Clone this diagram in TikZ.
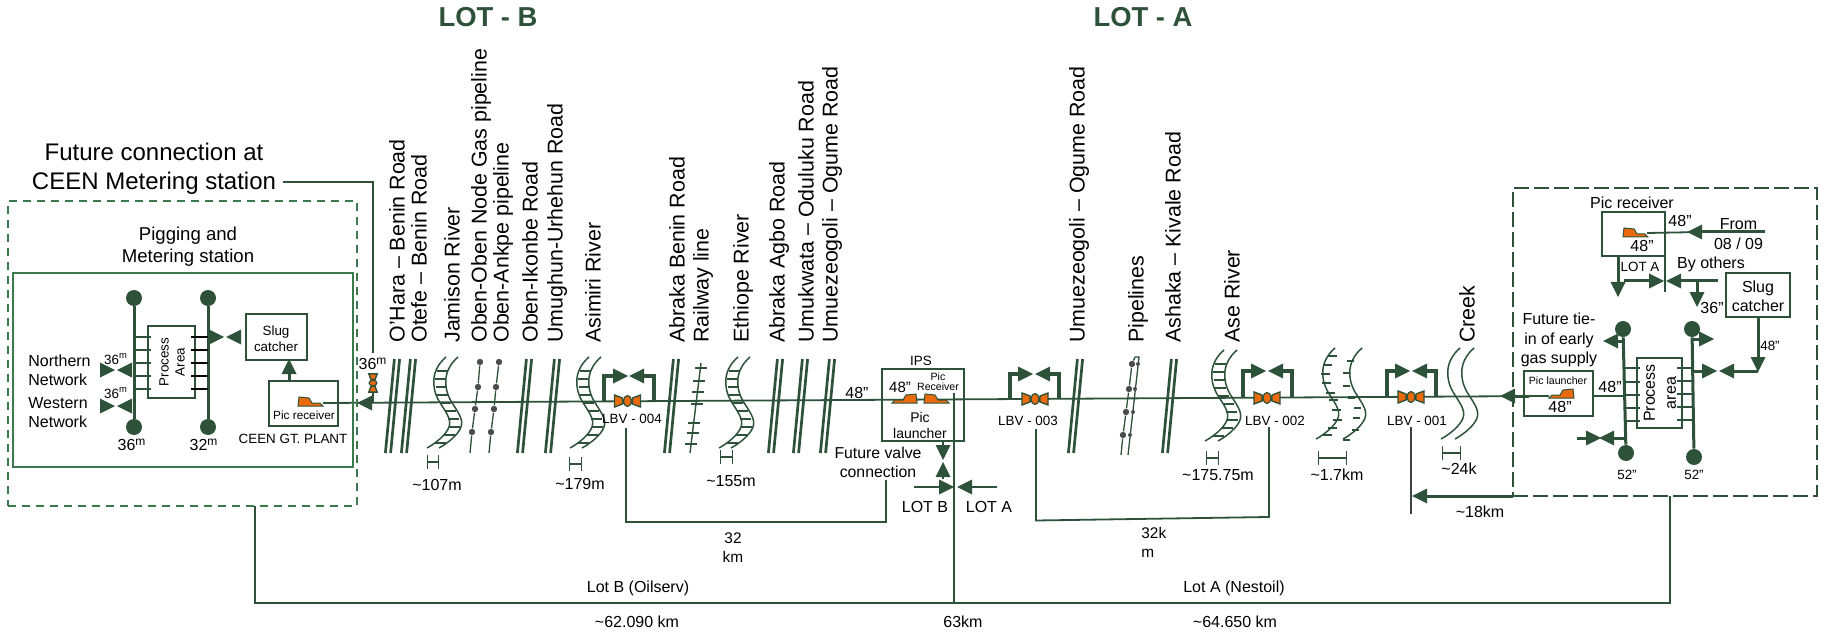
\documentclass[tikz,border=0pt]{standalone}
\usepackage{fontspec}
\setmainfont{Liberation Sans}
\definecolor{pipe}{HTML}{2D5239}
\definecolor{plant}{HTML}{3A7A4C}
\definecolor{orng}{HTML}{EC6A0E}
\begin{document}
\begin{tikzpicture}[x=0.5pt,y=-0.5pt,
  ln/.style={draw=pipe, line width=0.9pt},
  tk/.style={draw=pipe, line width=1.5pt},
  byp/.style={draw=pipe, line width=1.9pt},
  tn/.style={draw=pipe, line width=0.65pt},
  bx/.style={draw=pipe, line width=1pt, inner sep=0pt},
  nd/.style={circle, fill=pipe, inner sep=0pt, minimum size=8pt},
  dotnd/.style={circle, fill=black!70, inner sep=0pt, minimum size=3.2pt},
  ttl/.style={font=\fontsize{13.7}{16}\selectfont\bfseries, text=pipe, inner sep=0pt},
  big/.style={font=\fontsize{12}{14.5}\selectfont, align=center, inner sep=0pt},
  vert/.style={font=\fontsize{10.7}{12}\selectfont, rotate=90, anchor=west, inner sep=0pt},
  lbl/.style={font=\fontsize{8}{9.6}\selectfont, align=center, inner sep=0pt},
  sml/.style={font=\fontsize{6.7}{8}\selectfont, align=center, inner sep=0pt},
  tiny/.style={font=\fontsize{5.3}{5}\selectfont, align=center, inner sep=0pt},
  pics/tri/.style={code={\fill[pipe] (0,0) -- (-15,-7.5) -- (-15,7.5) -- cycle;}},
  pics/road/.style={code={
    \draw[draw=pipe, line width=1.35pt] (-2.6,0) -- (-11.6,94);
    \draw[draw=pipe, line width=1.35pt] (2.6,0) -- (-6.4,94);}},
  pics/bank/.style={code={
    \draw[draw=pipe, line width=0.75pt] (0,0) .. controls (-15,13) and (-15,30) .. (-7,44)
      .. controls (-1,54) and (6,62) .. (3,70) .. controls (0,78) and (-10,86) .. (-19,91);}},
  pics/hatch/.style={code={
    \foreach \hy/\hx in {14/-9,22/-11,30/-10,38/-9,46/-6,54/-1,62/2,70/3,78/-2,86/-11}
      \draw[tn] (\hx,\hy) -- ++(11,0);}},
  pics/bar/.style={code={\draw[tn, |-|] (0,0) -- (#1,0);}},
  pics/pig/.style={code={
    \filldraw[draw=pipe, fill=orng, line width=0.5pt]
      (0,0) -- (3,-3) -- (11,-3) -- (14,-8) -- (24,-9) -- (25,0) -- cycle;}},
  pics/lbv/.style={code={
    \fill[pipe] (-6,-2.5) rectangle (6,2.5);
    \filldraw[draw=pipe, fill=orng, line width=0.7pt] (-13,-6) -- (-5,-3) -- (-5,3) -- (-13,6) -- cycle;
    \filldraw[draw=pipe, fill=orng, line width=0.7pt] (13,-6) -- (5,-3) -- (5,3) -- (13,6) -- cycle;
    \filldraw[draw=pipe, fill=orng, line width=0.6pt] (0,0) ellipse (4 and 5.5);}}
]
\useasboundingbox (0,0) rectangle (1825,636);
% lot titles
\node[ttl] (lotb) at (488,17) {LOT - B};
\node[ttl] (lota) at (1143,17) {LOT - A};
% crossing names
\node[vert] (hara) at (397,343) {O’Hara – Benin Road};
\node[vert] (otefe) at (419,343) {Otefe – Benin Road};
\node[vert] (jamison) at (452,343) {Jamison River};
\node[vert] (obgas) at (481,343) {Oben-Oben Node Gas pipeline};
\node[vert] (obankpe) at (503,343) {Oben-Ankpe pipeline};
\node[vert] (obikonbe) at (530,343) {Oben-Ikonbe Road};
\node[vert] (umughun) at (557,343) {Umughun-Urhehun Road};
\node[vert] (asimiri) at (593,343) {Asimiri River};
\node[vert] (abbenin) at (677,343) {Abraka Benin Road};
\node[vert] (railway) at (703,343) {Railway line};
\node[vert] (ethiope) at (743,343) {Ethiope River};
\node[vert] (abagbo) at (779,343) {Abraka Agbo Road};
\node[vert] (umukwata) at (806,343) {Umukwata – Oduluku Road};
\node[vert] (ogumeb) at (832,343) {Umuezeogoli – Ogume Road};
\node[vert] (ogumea) at (1079,343) {Umuezeogoli – Ogume Road};
\node[vert] (pipes) at (1138,343) {Pipelines};
\node[vert] (ashaka) at (1173,343) {Ashaka – Kivale Road};
\node[vert] (ase) at (1232,343) {Ase River};
\node[vert] (creek) at (1467,343) {Creek};
% roads
\pic at (397,359) {road};
\pic at (413,359) {road};
\pic at (529,359) {road};
\pic at (557,359) {road};
\pic at (676,359) {road};
\pic at (780,359) {road};
\pic at (805,359) {road};
\pic at (832,359) {road};
\pic at (1080,359) {road};
\pic at (1174,359) {road};
% rivers
\pic at (446,357) {bank};
\pic at (458,357) {bank};
\pic at (446,357) {hatch};
\pic at (589,357) {bank};
\pic at (601,357) {bank};
\pic at (589,357) {hatch};
\pic at (738,357) {bank};
\pic at (750,357) {bank};
\pic at (738,357) {hatch};
\pic at (1224,350) {bank};
\pic at (1237,350) {bank};
\pic at (1224,350) {hatch};
\pic at (1335,348) {bank};
\pic at (1362,348) {bank};
\foreach \hy/\hx in {356/1328,365/1323,374/1321,383/1322,393/1326,400/1329,410/1332,420/1333,428/1328,435/1323}
  \draw[tn] (\hx,\hy) -- ++(9,0);
\foreach \hy/\hx in {361/1354,373/1350,386/1350,398/1355,408/1361,418/1360,430/1359,440/1350}
  \draw[tn] (\hx,\hy) -- ++(-7,0);
\pic at (1460,348) {bank};
\pic at (1474,348) {bank};
% gas pipelines with markers
\node[dotnd] (gasa) at (480,362) {};
\node[dotnd] (gasb) at (478,387) {};
\node[dotnd] (gasc) at (475,409) {};
\node[dotnd] (gasd) at (472,432) {};
\coordinate (gase) at (470,453);
\draw[tn] (gasa) -- (gasb) -- (gasc) -- (gasd) -- (gase);
\node[dotnd] (anka) at (499,362) {};
\node[dotnd] (ankb) at (496,387) {};
\node[dotnd] (ankc) at (494,409) {};
\node[dotnd] (ankd) at (491,432) {};
\coordinate (anke) at (489,453);
\draw[tn] (anka) -- (ankb) -- (ankc) -- (ankd) -- (anke);
\node[dotnd] (ppa) at (1132,364) {};
\node[dotnd] (ppb) at (1129,389) {};
\node[dotnd] (ppc) at (1126,412) {};
\node[dotnd] (ppd) at (1123,435) {};
\coordinate (ppt) at (1135,357);
\coordinate (ppe) at (1121,455);
\draw[tn] (ppt) -- (ppa) -- (ppb) -- (ppc) -- (ppd) -- (ppe);
\coordinate (pqt) at (1139,357);
\coordinate (pqe) at (1128,455);
\draw[tn] (ppt) -- (pqt) -- (pqe);
\node[dotnd, minimum size=2pt] (pqa) at (1138,364) {};
\node[dotnd, minimum size=2pt] (pqb) at (1135,389) {};
\node[dotnd, minimum size=2pt] (pqc) at (1133,412) {};
\node[dotnd, minimum size=2pt] (pqd) at (1130,435) {};
% railway
\coordinate (rla) at (701,363);
\coordinate (rlb) at (690,453);
\draw[draw=pipe, line width=0.7pt] (rla) -- (rlb);
\foreach \ty/\tx in {368/701,381/699,392/698,404/697,423/694,433/693,444/691}
  \draw[tn] (\tx-6,\ty) -- (\tx+6,\ty);
% main line
\coordinate (mainw) at (323,403);
\coordinate (maine) at (1549,396);
\draw[ln] (mainw) -- (maine);
\pic[rotate=180] at (357,403) {tri};
% left station
\node[draw=plant, line width=1pt, dash pattern=on 4pt off 3pt, inner sep=0pt, minimum width=174.5pt, minimum height=152.5pt] (ceenout) at (182.5,353.5) {};
\node[draw=plant, line width=1pt, inner sep=0pt, minimum width=170pt, minimum height=97pt] (ceenin) at (183,370) {};
\node[big] (future) at (154,168.5) {Future connection at\\CEEN Metering station};
\coordinate (futa) at (283,182);
\coordinate (futb) at (373,182);
\coordinate (futc) at (373,353);
\draw[ln] (futa) -- (futb) -- (futc);
\node[lbl, font=\fontsize{9.3}{11}\selectfont] (pigging) at (188,247) {Pigging and\\Metering station};
\node[nd] (wa) at (134,298) {};
\node[nd] (wb) at (134,427) {};
\draw[tk] (wa) -- (wb);
\node[nd] (ea) at (208,298) {};
\node[nd] (eb) at (208,427) {};
\draw[tk] (ea) -- (eb);
\node[bx, fill=white, minimum width=23.5pt, minimum height=36pt] (procw) at (171.5,362) {};
\node[sml, rotate=90] (procwt) at (172,362) {Process\\Area};
\foreach \sy in {337,350,363,376,389} {
  \draw[tn] (134,\sy) -- (151,\sy);
  \draw[draw=black, line width=0.6pt] (191,\sy) -- (208,\sy);
}
\node[bx, minimum width=30.5pt, minimum height=23pt] (slugw) at (276.5,337) {};
\node[sml] (slugwt) at (276,339) {Slug\\catcher};
\node[bx, minimum width=34.5pt, minimum height=22.5pt] (recw) at (303.5,403.5) {};
\node[font=\fontsize{5.9}{7}\selectfont, inner sep=0pt] (recwt) at (304,415) {Pic receiver};
\pic[xscale=-1] at (323,406) {pig};
\coordinate (recup) at (289,381);
\coordinate (recupb) at (289,372);
\draw[tk] (recup) -- (recupb);
\pic[rotate=90] at (289,359) {tri};
\pic at (224,337) {tri};
\pic[rotate=180] at (226,337) {tri};
\pic at (115,370) {tri};
\pic[rotate=180] at (117,370) {tri};
\pic at (115,406) {tri};
\pic[rotate=180] at (117,406) {tri};
\node[sml] (nm) at (116,359) {36\textsuperscript{m}};
\node[sml] (wm) at (116,393) {36\textsuperscript{m}};
\node[lbl, align=left, anchor=north west, font=\fontsize{8}{9.5}\selectfont] (north) at (28,355) {Northern\\Network};
\node[lbl, align=left, anchor=north west, font=\fontsize{8}{9.5}\selectfont] (west) at (28,397) {Western\\Network};
\node[lbl] (wbm) at (132,445) {36\textsuperscript{m}};
\node[lbl] (ebm) at (204,445) {32\textsuperscript{m}};
\node[sml] (plant) at (293,439) {CEEN GT. PLANT};
\node[lbl] (entm) at (373,364) {36\textsuperscript{m}};
\coordinate (enta) at (373,403);
\coordinate (entb) at (373,392);
\draw[ln] (enta) -- (entb);
\pic[rotate=90, scale=.7] at (373,383) {lbv};
% crossing widths
\pic at (427,462) {bar=12};
\node[lbl] (wa107) at (437,485) {\textasciitilde107m};
\pic at (569,464) {bar=13};
\node[lbl] (wa179) at (580,484) {\textasciitilde179m};
\pic at (720,457) {bar=13};
\node[lbl] (wa155) at (731,481) {\textasciitilde155m};
\pic at (1206,458) {bar=13};
\node[lbl] (wa175) at (1218,475) {\textasciitilde175.75m};
\pic at (1318,458) {bar=29};
\node[lbl] (wa17) at (1337,475) {\textasciitilde1.7km};
\pic at (1442,453) {bar=19};
\node[lbl] (wa24) at (1459,469) {\textasciitilde24k};
% line valves
\coordinate (lva) at (604,401.4);
\coordinate (lvb) at (604,376);
\coordinate (lvc) at (613,376);
\coordinate (lvd) at (644,376);
\coordinate (lve) at (654,376);
\coordinate (lvf) at (654,401.1);
\draw[byp] (lva) -- (lvb) -- (lvc);
\draw[byp] (lvd) -- (lve) -- (lvf);
\pic at (628,376) {tri};
\pic[rotate=180] at (629,376) {tri};
\pic at (627.5,401) {lbv};
\node[sml] (lbv4) at (632,419) {LBV - 004};
\coordinate (lwa) at (1010,399.1);
\coordinate (lwb) at (1010,374);
\coordinate (lwc) at (1019,374);
\coordinate (lwd) at (1050,374);
\coordinate (lwe) at (1059,374);
\coordinate (lwf) at (1059,398.8);
\draw[byp] (lwa) -- (lwb) -- (lwc);
\draw[byp] (lwd) -- (lwe) -- (lwf);
\pic at (1033,374) {tri};
\pic[rotate=180] at (1035,374) {tri};
\pic at (1035,399) {lbv};
\node[sml] (lbv3) at (1028,421) {LBV - 003};
\coordinate (lxa) at (1243,397.8);
\coordinate (lxb) at (1243,371);
\coordinate (lxc) at (1251,371);
\coordinate (lxd) at (1283,371);
\coordinate (lxe) at (1292,371);
\coordinate (lxf) at (1292,397.5);
\draw[byp] (lxa) -- (lxb) -- (lxc);
\draw[byp] (lxd) -- (lxe) -- (lxf);
\pic at (1266,371) {tri};
\pic[rotate=180] at (1268,371) {tri};
\pic at (1267,398) {lbv};
\node[sml] (lbv2) at (1275,421) {LBV - 002};
\coordinate (lya) at (1387,396.9);
\coordinate (lyb) at (1387,371);
\coordinate (lyc) at (1396,371);
\coordinate (lyd) at (1427,371);
\coordinate (lye) at (1436,371);
\coordinate (lyf) at (1436,396.6);
\draw[byp] (lya) -- (lyb) -- (lyc);
\draw[byp] (lyd) -- (lye) -- (lyf);
\pic at (1410,371) {tri};
\pic[rotate=180] at (1412,371) {tri};
\pic at (1411,397) {lbv};
\node[sml] (lbv1) at (1417,421) {LBV - 001};
% spacing brackets
\coordinate (spa) at (626,428);
\coordinate (spb) at (626,522);
\coordinate (spc) at (886,522);
\coordinate (spd) at (886,480);
\draw[ln] (spa) -- (spb) -- (spc) -- (spd);
\node[sml, font=\fontsize{7.7}{9.5}\selectfont] (km32) at (733,547.5) {32\\km};
\node[lbl, font=\fontsize{7.9}{9.6}\selectfont] (valvefut) at (878,462.5) {Future valve\\connection};
\coordinate (sqa) at (1036,429);
\coordinate (sqb) at (1036,520.5);
\coordinate (sqc) at (1269,517);
\coordinate (sqd) at (1269,427);
\draw[ln] (sqa) -- (sqb) -- (sqc) -- (sqd);
\node[lbl, align=left, font=\fontsize{7.7}{9.5}\selectfont, anchor=north west] (km32b) at (1141,527) {32k\\m};
% IPS
\node[lbl] (main48) at (857,393) {48”};
\node[bx, minimum width=41pt, minimum height=36pt] (ips) at (923,405) {};
\node[sml] (ipst) at (921,361) {IPS};
\node[lbl, font=\fontsize{7.5}{9}\selectfont] (ips48) at (900,387) {48”};
\node[tiny] (ipsrec) at (938,382) {Pic\\Receiver};
\node[sml, font=\fontsize{7}{8}\selectfont] (ipslau) at (920,425) {Pic\\launcher};
\pic at (892,403) {pig};
\pic[xscale=-1] at (949,403) {pig};
\coordinate (ipsb) at (943,441);
\coordinate (ipsc) at (943,447);
\coordinate (ipsd) at (943,476);
\coordinate (ipse) at (943,479);
\draw[ln] (ipsb) -- (ipsc);
\draw[ln] (ipsd) -- (ipse);
\pic[rotate=-90] at (943,460) {tri};
\pic[rotate=90] at (943,462) {tri};
\coordinate (cta) at (954,393);
\coordinate (ctb) at (954,603);
\draw[ln] (cta) -- (ctb);
\coordinate (lba) at (914,487);
\coordinate (lbb) at (940,487);
\coordinate (laa) at (997,487);
\coordinate (lab) at (971,487);
\draw[ln] (lba) -- (lbb);
\draw[ln] (laa) -- (lab);
\pic at (954,487) {tri};
\pic[rotate=180] at (957,487) {tri};
\node[lbl] (lotbt) at (925,507) {LOT B};
\node[lbl] (lotat) at (989,507) {LOT A};
% total lengths
\coordinate (bota) at (255,506);
\coordinate (botb) at (255,603);
\coordinate (botc) at (1670,603);
\coordinate (botd) at (1670,496);
\draw[ln] (bota) -- (botb) -- (botc) -- (botd);
\node[lbl] (lotbl) at (638,588) {Lot B (Oilserv)};
\node[lbl] (lotal) at (1234,588) {Lot A (Nestoil)};
\node[lbl] (lenb) at (637,622) {\textasciitilde62.090 km};
\node[lbl] (lenm) at (963,622) {63km};
\node[lbl] (lena) at (1235,622) {\textasciitilde64.650 km};
% 18 km mark
\coordinate (kma) at (1411,427);
\coordinate (kmb) at (1411,514);
\draw[draw=black!75, line width=1pt] (kma) -- (kmb);
\coordinate (kmc) at (1427,496);
\coordinate (kmd) at (1513,496);
\draw[tk] (kmc) -- (kmd);
\pic[rotate=180] at (1412,496) {tri};
\node[lbl] (wa18) at (1480,512) {\textasciitilde18km};
% right station
\node[draw=pipe, line width=1pt, dash pattern=on 7.5pt off 2.5pt, inner sep=0pt, minimum width=152pt, minimum height=154pt] (gasout) at (1665,342) {};
\node[lbl] (recrt) at (1632,203) {Pic receiver};
\node[bx, minimum width=31.5pt, minimum height=22pt] (recr) at (1633.5,234) {};
\pic[xscale=-1] at (1648,237) {pig};
\node[lbl] (rec48) at (1642,246) {48”};
\node[lbl] (rec48b) at (1680,221) {48”};
\coordinate (fra) at (1647,233);
\coordinate (frb) at (1702,232);
\coordinate (frc) at (1765,232);
\draw[ln] (fra) -- (frb);
\draw[tk] (frb) -- (frc);
\pic[rotate=180] at (1687,232) {tri};
\node[lbl] (from) at (1738.5,234) {From\\08 / 09};
\node[lbl] (others) at (1711,264) {By others};
\node[sml] (lotart) at (1640,267) {LOT A};
\coordinate (loa) at (1618,256);
\coordinate (lob) at (1618,283);
\draw[tk] (loa) -- (lob);
\pic[rotate=-90] at (1618,297) {tri};
\coordinate (lpa) at (1665,256);
\coordinate (lpb) at (1665,292);
\draw[ln] (lpa) -- (lpb);
\coordinate (lqa) at (1624,281);
\coordinate (lqb) at (1649,281);
\coordinate (lqc) at (1681,281);
\coordinate (lqd) at (1718,281);
\coordinate (lqe) at (1697,281);
\coordinate (lqf) at (1697,293);
\draw[tk] (lqa) -- (lqb);
\draw[tk] (lqc) -- (lqd);
\draw[tk] (lqe) -- (lqf);
\pic at (1664,281) {tri};
\pic[rotate=180] at (1666,281) {tri};
\pic[rotate=-90] at (1697,307) {tri};
\node[lbl] (r36) at (1712,308) {36”};
\node[bx, minimum width=32pt, minimum height=22pt] (slugr) at (1758,295) {};
\node[lbl] (slugrt) at (1758,296.5) {Slug\\catcher};
\coordinate (sla) at (1758,317);
\coordinate (slb) at (1758,358);
\coordinate (slc) at (1758,371);
\coordinate (sld) at (1734,371);
\coordinate (sle) at (1702,371);
\coordinate (slf) at (1693,371);
\draw[tk] (sla) -- (slb);
\draw[tk] (slc) -- (sld);
\draw[tk] (sle) -- (slf);
\pic[rotate=-90] at (1758,372) {tri};
\pic[rotate=180] at (1719,371) {tri};
\pic at (1717,371) {tri};
\node[sml] (sl48) at (1770,346) {48”};
\node[nd] (pwa) at (1623,329) {};
\node[nd] (pwb) at (1626,453) {};
\draw[tk] (pwa) -- (pwb);
\node[nd] (pea) at (1692,329) {};
\node[nd] (peb) at (1694,457) {};
\draw[tk] (pea) -- (peb);
\node[bx, fill=white, minimum width=22.5pt, minimum height=35pt] (procr) at (1659.5,393) {};
\node[lbl, rotate=90, font=\fontsize{8}{10.5}\selectfont] (procrt) at (1660,393) {Process\\area};
\foreach \sy in {368,382,395,408,421}
  \draw[tn] (1624,\sy) -- (1640,\sy);
\foreach \sy in {368,381,394,407,420}
  \draw[tn] (1677,\sy) -- (1693,\sy);
\node[lbl] (tiein) at (1559,340) {Future tie-\\in of early\\gas supply};
\coordinate (tia) at (1624,341);
\coordinate (tib) at (1618,341);
\draw[tk] (tia) -- (tib);
\pic[rotate=180] at (1603,341) {tri};
\coordinate (tja) at (1693,339);
\coordinate (tjb) at (1699,339);
\draw[tk] (tja) -- (tjb);
\pic at (1714,339) {tri};
\node[bx, minimum width=34.5pt, minimum height=22.5pt] (laur) at (1558.5,393.5) {};
\node[tiny] (laurt) at (1558,381) {Pic launcher};
\pic at (1549,398) {pig};
\node[lbl] (lau48) at (1560,407) {48”};
\node[lbl] (lau48b) at (1610,387) {48”};
\coordinate (lra) at (1593,396);
\coordinate (lrb) at (1625,396);
\draw[ln] (lra) -- (lrb);
\coordinate (lsa) at (1515,396);
\coordinate (lsb) at (1529,396);
\draw[tk] (lsa) -- (lsb);
\pic[rotate=180] at (1500,396) {tri};
\coordinate (lta) at (1577,438);
\coordinate (ltb) at (1587,438);
\coordinate (ltc) at (1614,438);
\coordinate (ltd) at (1625,438);
\draw[tk] (lta) -- (ltb);
\draw[tk] (ltc) -- (ltd);
\pic at (1601,438) {tri};
\pic[rotate=180] at (1599,438) {tri};
\node[sml] (b52a) at (1627,475) {52”};
\node[sml] (b52b) at (1694,475) {52”};
\end{tikzpicture}
\end{document}
